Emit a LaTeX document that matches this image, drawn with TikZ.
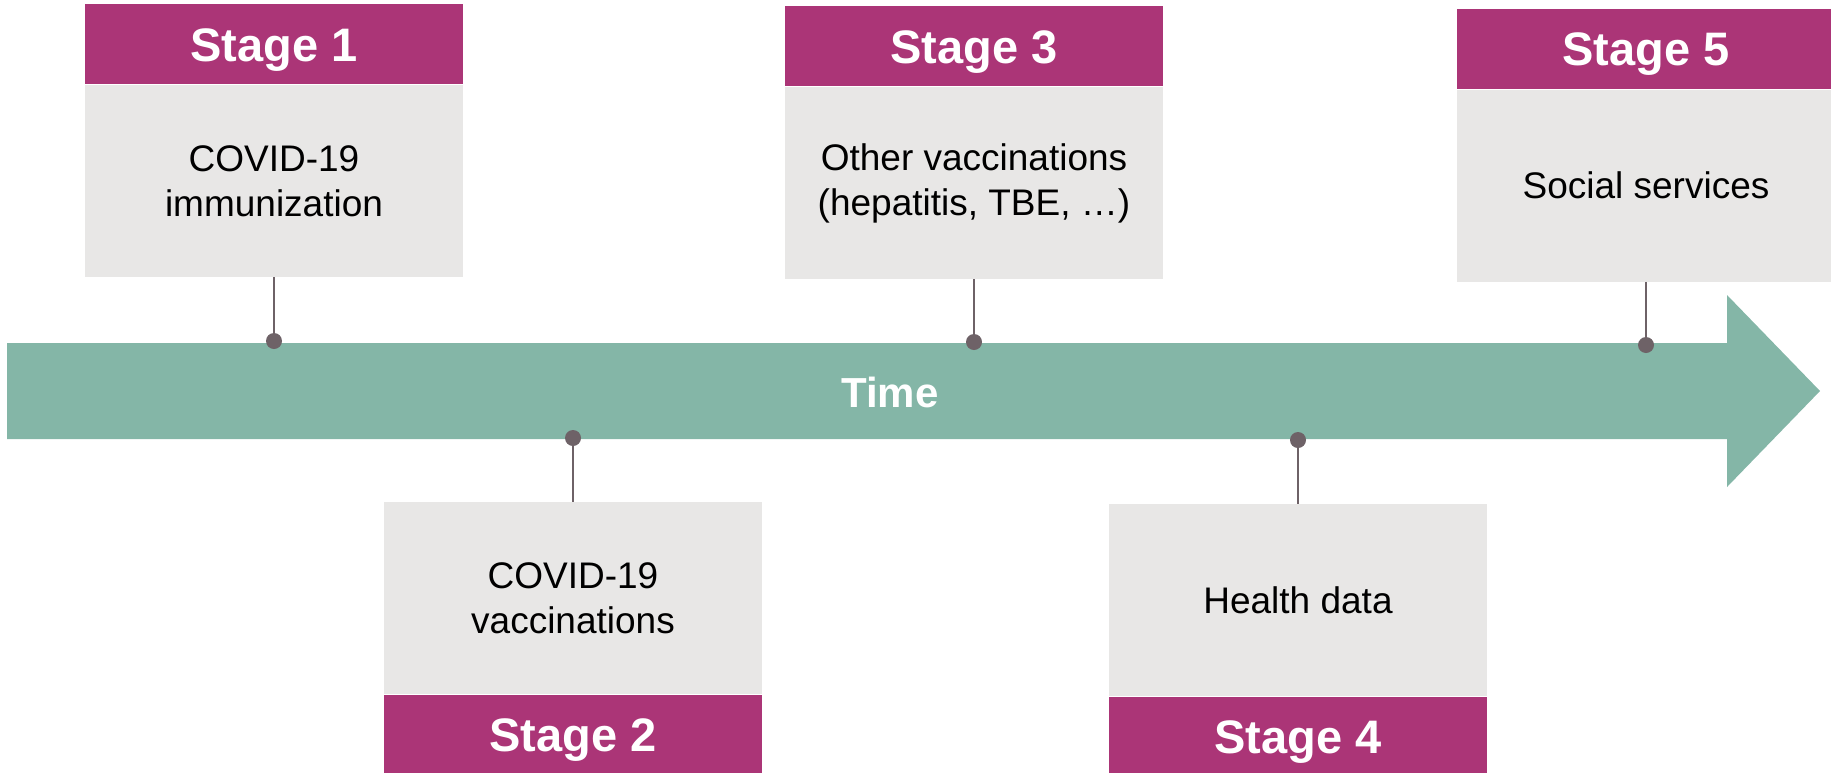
\documentclass[tikz,border=0pt]{standalone}
\usepackage{fontspec}
\setmainfont{Liberation Sans}
\usetikzlibrary{positioning}
\definecolor{stagepink}{HTML}{AB3577}
\definecolor{boxgrey}{HTML}{E8E7E6}
\definecolor{bandgreen}{HTML}{84B6A7}
\definecolor{stemgrey}{HTML}{6E6267}

\begin{document}
\begin{tikzpicture}[x=0.5pt, y=-0.5pt, body/.style={rectangle,fill=boxgrey,minimum width=189pt,minimum height=96pt,inner sep=0pt,align=center,font=\fontsize{18.5pt}{22.5pt}\selectfont}, header/.style={rectangle,fill=stagepink,minimum width=189pt,minimum height=40pt,inner sep=0pt,text height=16.8pt,text depth=0pt,text=white,font=\bfseries\fontsize{23.5pt}{28pt}\selectfont}, dot/.style={circle,fill=stemgrey,minimum size=8pt,inner sep=0pt}, stem/.style={draw=stemgrey,line width=1pt}]
\useasboundingbox (0,0) rectangle (1831,772);
% time arrow
\fill[bandgreen] (7,343) -- (1727,343) -- (1727,295) -- (1820,391) -- (1727,487) -- (1727,439) -- (7,439) -- cycle;
\node[text=white,text height=15pt,text depth=0pt,font=\bfseries\fontsize{21pt}{25pt}\selectfont] (time) at (890,392) {Time};
% stages above the arrow
\node[body] (b1) at (274,181) {COVID-19\\immunization};
\node[header,above=0pt of b1] (h1) {Stage 1};
\node[dot] (d1) at (274,341) {};
\draw[stem] (b1.south) -- (d1);
\node[body] (b3) at (974,183) {Other vaccinations\\(hepatitis, TBE, …)};
\node[header,above=0pt of b3] (h3) {Stage 3};
\node[dot] (d3) at (974,342) {};
\draw[stem] (b3.south) -- (d3);
\node[body] (b5) at (1646,185.5) {Social services};
\node[header,above=0pt of b5] (h5) {Stage 5};
\node[dot] (d5) at (1646,345) {};
\draw[stem] (b5.south) -- (d5);
% stages below the arrow
\node[body] (b2) at (573,598) {COVID-19\\vaccinations};
\node[header,below=0pt of b2] (h2) {Stage 2};
\node[dot] (d2) at (573,438) {};
\draw[stem] (b2.north) -- (d2);
\node[body] (b4) at (1298,600) {Health data};
\node[header,below=0pt of b4] (h4) {Stage 4};
\node[dot] (d4) at (1298,440) {};
\draw[stem] (b4.north) -- (d4);
\end{tikzpicture}
\end{document}
